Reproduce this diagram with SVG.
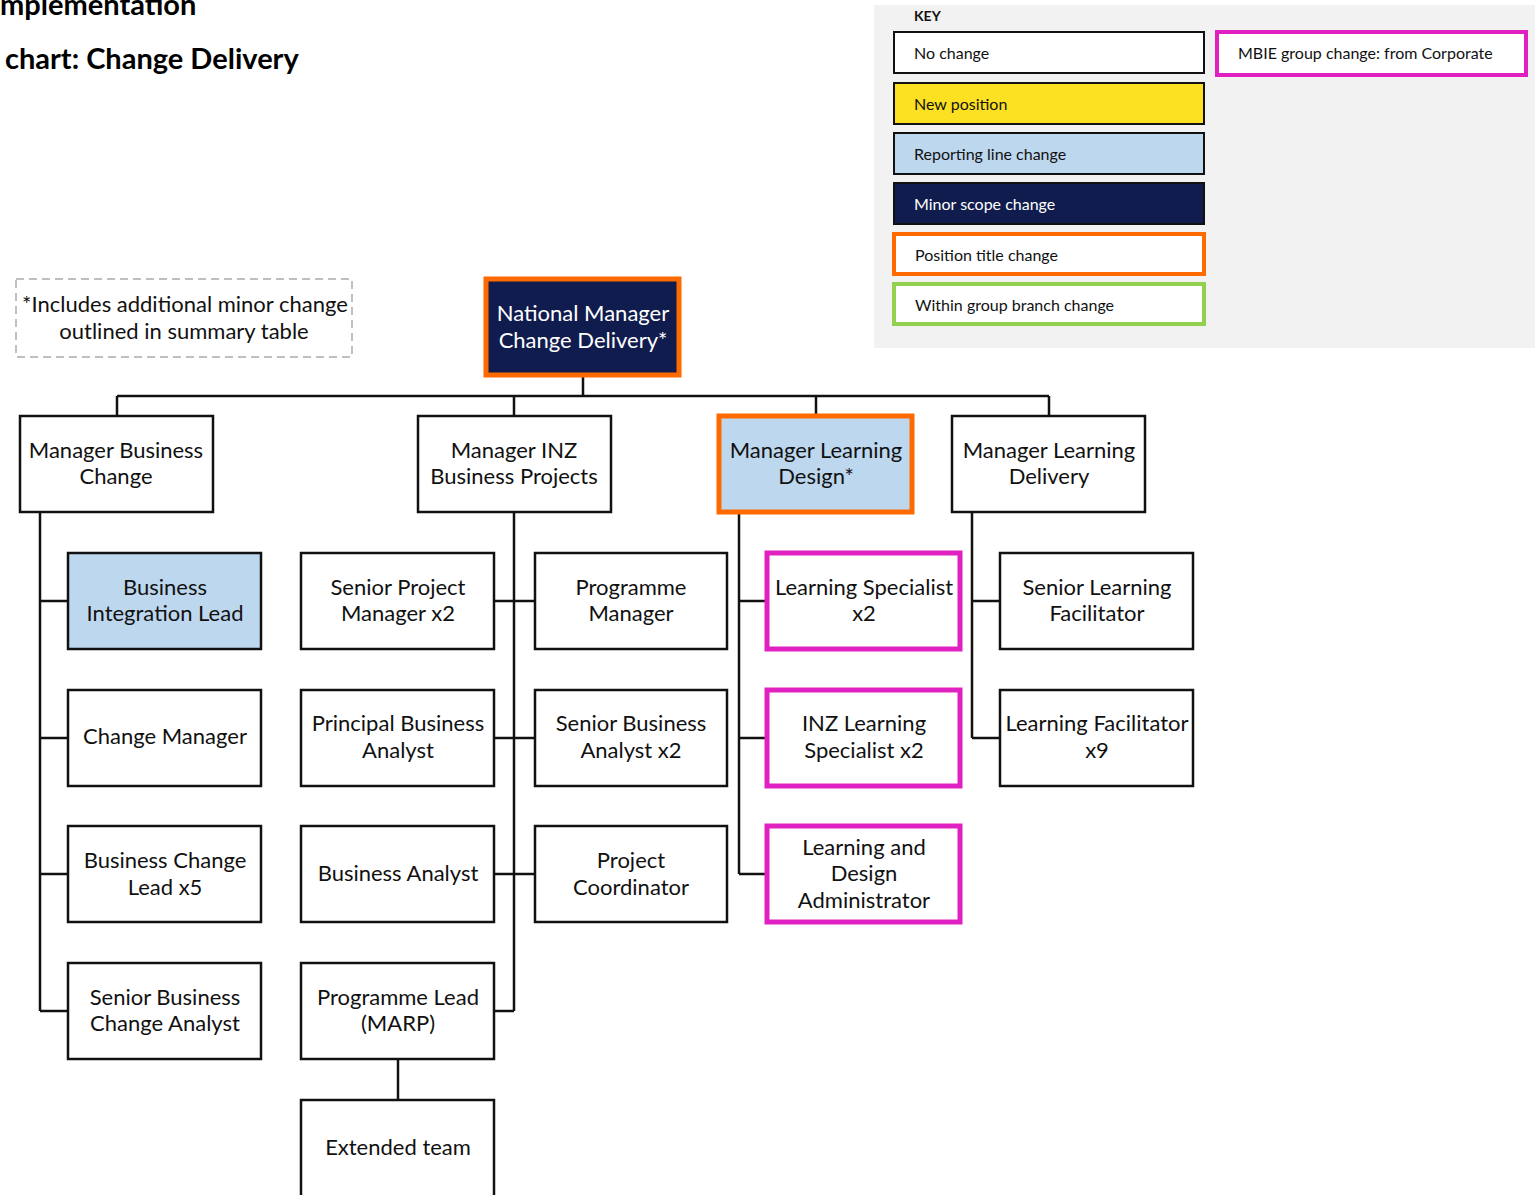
<svg xmlns="http://www.w3.org/2000/svg" width="1535" height="1195" viewBox="0 0 1535 1195">
<style>
.t{font-family:Lato,"Liberation Sans",sans-serif;font-size:22px;fill:#111;text-anchor:middle}
.k{font-family:Lato,"Liberation Sans",sans-serif;font-size:16px;fill:#111}
.n{fill:#fff;stroke:#111;stroke-width:2.5}
.b{fill:#bdd7ee;stroke:#111;stroke-width:2.5}
.m{fill:#fff;stroke:#e020c0;stroke-width:5}
.c{fill:none;stroke:#111;stroke-width:2.5}
.h{font-family:Lato,"Liberation Sans",sans-serif;font-weight:bold;font-size:29px;fill:#000}
</style>
<rect width="1535" height="1195" fill="#fff"/>
<text class="h" x="0" y="15">mplementation</text>
<text class="h" x="5" y="69">chart: Change Delivery</text>

<g id="key">
<rect x="874" y="5" width="661" height="343" fill="#f2f2f2"/>
<text class="k" x="914" y="21" font-weight="bold" style="font-size:14px">KEY</text>
<rect x="894" y="32" width="310" height="41" fill="#fff" stroke="#111" stroke-width="2"/>
<text class="k" x="914" y="59">No change</text>
<rect x="894" y="83" width="310" height="41" fill="#fbe122" stroke="#111" stroke-width="2"/>
<text class="k" x="914" y="110">New position</text>
<rect x="894" y="133" width="310" height="41" fill="#bdd7ee" stroke="#111" stroke-width="2"/>
<text class="k" x="914" y="160">Reporting line change</text>
<rect x="894" y="183" width="310" height="41" fill="#111c4e" stroke="#111" stroke-width="2"/>
<text class="k" x="914" y="210" style="fill:#fff">Minor scope change</text>
<rect x="894" y="234" width="310" height="40" fill="#fff" stroke="#ff6a00" stroke-width="4"/>
<text class="k" x="915" y="261">Position title change</text>
<rect x="894" y="284" width="310" height="40" fill="#fff" stroke="#92d050" stroke-width="4"/>
<text class="k" x="915" y="311">Within group branch change</text>
<rect x="1217" y="32" width="309" height="43" fill="#fff" stroke="#e020c0" stroke-width="4"/>
<text class="k" x="1238" y="59">MBIE group change: from Corporate</text>
</g>

<g id="note">
<rect x="16" y="279" width="336" height="78" fill="none" stroke="#bfbfbf" stroke-width="2" stroke-dasharray="8,5"/>
<text class="t" x="185" y="312">*Includes additional minor change</text>
<text class="t" x="184" y="339">outlined in summary table</text>
</g>

<g id="connectors">
<path class="c" d="M583 376V396M117 396H1049M117 396V416M514 396V416M816 396V416M1049 396V416"/>
<path class="c" d="M40 512V1011M40 601H68M40 738H68M40 874H68M40 1011H68"/>
<path class="c" d="M514 512V1011M494 601H535M494 738H535M494 874H535M494 1011H514"/>
<path class="c" d="M398 1059V1100"/>
<path class="c" d="M739 513V874M739 601H766M739 738H766M739 874H766"/>
<path class="c" d="M972 512V738M972 601H1000M972 738H1000"/>
</g>

<g id="national-manager">
<rect x="486" y="279" width="193" height="96" fill="#111c4e" stroke="#ff6a00" stroke-width="5"/>
<text class="t" x="583" y="321" style="fill:#fff">National Manager</text>
<text class="t" x="583" y="348" style="fill:#fff">Change Delivery*</text>
</g>

<g id="mgr-business-change">
<rect class="n" x="20" y="416" width="193" height="96"/>
<text class="t" x="116" y="458">Manager Business</text>
<text class="t" x="116" y="484">Change</text>
</g>
<g id="mgr-inz">
<rect class="n" x="418" y="416" width="193" height="96"/>
<text class="t" x="514" y="458">Manager INZ</text>
<text class="t" x="514" y="484">Business Projects</text>
</g>
<g id="mgr-learning-design">
<rect x="719" y="416" width="193" height="96" fill="#bdd7ee" stroke="#ff6a00" stroke-width="5"/>
<text class="t" x="816" y="458">Manager Learning</text>
<text class="t" x="816" y="484">Design*</text>
</g>
<g id="mgr-learning-delivery">
<rect class="n" x="952" y="416" width="193" height="96"/>
<text class="t" x="1049" y="458">Manager Learning</text>
<text class="t" x="1049" y="484">Delivery</text>
</g>

<g id="business-integration-lead">
<rect class="b" x="68" y="553" width="193" height="96"/>
<text class="t" x="165" y="595">Business</text>
<text class="t" x="165" y="621">Integration Lead</text>
</g>
<g id="change-manager">
<rect class="n" x="68" y="690" width="193" height="96"/>
<text class="t" x="165" y="744">Change Manager</text>
</g>
<g id="business-change-lead">
<rect class="n" x="68" y="826" width="193" height="96"/>
<text class="t" x="165" y="868">Business Change</text>
<text class="t" x="165" y="895">Lead x5</text>
</g>
<g id="senior-business-change-analyst">
<rect class="n" x="68" y="963" width="193" height="96"/>
<text class="t" x="165" y="1005">Senior Business</text>
<text class="t" x="165" y="1031">Change Analyst</text>
</g>

<g id="senior-project-manager">
<rect class="n" x="301" y="553" width="193" height="96"/>
<text class="t" x="398" y="595">Senior Project</text>
<text class="t" x="398" y="621">Manager x2</text>
</g>
<g id="principal-business-analyst">
<rect class="n" x="301" y="690" width="193" height="96"/>
<text class="t" x="398" y="731">Principal Business</text>
<text class="t" x="398" y="758">Analyst</text>
</g>
<g id="business-analyst">
<rect class="n" x="301" y="826" width="193" height="96"/>
<text class="t" x="398" y="881">Business Analyst</text>
</g>
<g id="programme-lead">
<rect class="n" x="301" y="963" width="193" height="96"/>
<text class="t" x="398" y="1005">Programme Lead</text>
<text class="t" x="398" y="1031">(MARP)</text>
</g>
<g id="extended-team">
<rect class="n" x="301" y="1100" width="193" height="100"/>
<text class="t" x="398" y="1155">Extended team</text>
</g>

<g id="programme-manager">
<rect class="n" x="535" y="553" width="192" height="96"/>
<text class="t" x="631" y="595">Programme</text>
<text class="t" x="631" y="621">Manager</text>
</g>
<g id="senior-business-analyst">
<rect class="n" x="535" y="690" width="192" height="96"/>
<text class="t" x="631" y="731">Senior Business</text>
<text class="t" x="631" y="758">Analyst x2</text>
</g>
<g id="project-coordinator">
<rect class="n" x="535" y="826" width="192" height="96"/>
<text class="t" x="631" y="868">Project</text>
<text class="t" x="631" y="895">Coordinator</text>
</g>

<g id="learning-specialist">
<rect class="m" x="767" y="553" width="193" height="96"/>
<text class="t" x="864" y="595">Learning Specialist</text>
<text class="t" x="864" y="621">x2</text>
</g>
<g id="inz-learning-specialist">
<rect class="m" x="767" y="690" width="193" height="96"/>
<text class="t" x="864" y="731">INZ Learning</text>
<text class="t" x="864" y="758">Specialist x2</text>
</g>
<g id="learning-design-administrator">
<rect class="m" x="767" y="826" width="193" height="96"/>
<text class="t" x="864" y="855">Learning and</text>
<text class="t" x="864" y="881">Design</text>
<text class="t" x="864" y="908">Administrator</text>
</g>

<g id="senior-learning-facilitator">
<rect class="n" x="1000" y="553" width="193" height="96"/>
<text class="t" x="1097" y="595">Senior Learning</text>
<text class="t" x="1097" y="621">Facilitator</text>
</g>
<g id="learning-facilitator">
<rect class="n" x="1000" y="690" width="193" height="96"/>
<text class="t" x="1097" y="731">Learning Facilitator</text>
<text class="t" x="1097" y="758">x9</text>
</g>
</svg>
